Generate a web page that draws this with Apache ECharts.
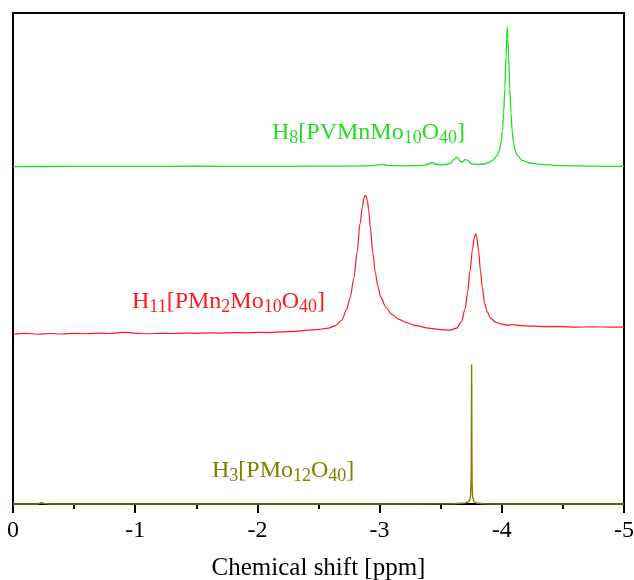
<!DOCTYPE html>
<html>
<head>
<meta charset="utf-8">
<script src="https://cdn.jsdelivr.net/npm/echarts@6/dist/echarts.min.js"></script>
<style>
  html, body { margin: 0; padding: 0; background: #fff; }
  #chart { width: 634px; height: 580px; }
</style>
</head>
<body>
<div id="chart"></div>
<script>
// 31P NMR spectra, chemical shift in ppm (axis drawn from 0 down to -5)
const xTicks = [0, -1, -2, -3, -4, -5];

// H8[PVMnMo10O40]
const vmnShift = [0, -0.5, -1.0, -1.5, -2.0, -2.5, -2.9, -2.97, -3.02, -3.07, -3.2, -3.35, -3.40, -3.43, -3.46, -3.52, -3.58, -3.61, -3.635, -3.66, -3.675, -3.70, -3.72, -3.75, -3.80, -3.86, -3.90, -3.925, -3.96, -3.98, -3.995, -4.005, -4.015, -4.025, -4.035, -4.040, -4.045, -4.050, -4.055, -4.065, -4.075, -4.085, -4.095, -4.11, -4.13, -4.165, -4.22, -4.32, -4.5, -4.75, -5.0];
const vmnIntensity = [0, 0.05, 0.05, 0.1, 0.05, 0.1, 0.15, 0.3, 0.45, 0.25, 0.15, 0.25, 0.5, 0.85, 0.5, 0.35, 0.7, 1.5, 1.95, 1.1, 0.95, 1.45, 1.3, 0.6, 0.45, 0.55, 0.9, 1.3, 2.2, 3.3, 5.0, 7.3, 11, 16, 22.5, 26, 28.45, 26, 22.5, 16, 11, 7.3, 5.0, 3.3, 2.2, 1.3, 0.8, 0.45, 0.2, 0.1, 0.05];

// H11[PMn2Mo10O40]
const mn2Shift = [0, -0.1, -0.2, -0.3, -0.4, -0.5, -0.6, -0.7, -0.8, -0.9, -0.95, -1.0, -1.1, -1.2, -1.3, -1.4, -1.5, -1.6, -1.7, -1.8, -1.9, -2.0, -2.1, -2.2, -2.3, -2.4, -2.5, -2.58, -2.64, -2.69, -2.73, -2.76, -2.79, -2.815, -2.84, -2.86, -2.87, -2.88, -2.89, -2.90, -2.91, -2.925, -2.945, -2.965, -2.985, -3.01, -3.05, -3.10, -3.16, -3.22, -3.30, -3.40, -3.50, -3.58, -3.63, -3.67, -3.70, -3.72, -3.74, -3.76, -3.775, -3.785, -3.795, -3.81, -3.825, -3.84, -3.86, -3.88, -3.91, -3.95, -4.0, -4.05, -4.1, -4.15, -4.25, -4.35, -4.5, -4.6, -4.75, -4.9, -5.0];
const mn2Intensity = [0, 0.15, -0.05, 0.1, 0.0, 0.15, 0.05, 0.2, 0.1, 0.35, 0.3, 0.15, 0.05, 0.15, 0.1, 0.2, 0.15, 0.25, 0.2, 0.3, 0.25, 0.35, 0.3, 0.45, 0.55, 0.75, 0.95, 1.2, 1.7, 2.8, 5.0, 7.5, 11.5, 16.5, 22.5, 26.0, 27.5, 28.2, 28.1, 27.2, 25.4, 21.5, 16.5, 12.5, 9.8, 7.5, 5.5, 4.0, 3.0, 2.3, 1.7, 1.2, 0.9, 0.8, 1.2, 2.5, 5.2, 8.5, 12.8, 17.2, 19.6, 20.4, 19.8, 17.0, 13.0, 9.5, 6.3, 4.5, 3.2, 2.4, 2.0, 1.8, 1.9, 1.7, 1.6, 1.5, 1.5, 1.4, 1.45, 1.4, 1.4];

// H3[PMo12O40]
const mo12Shift = [0, -0.2, -0.23, -0.245, -0.26, -0.3, -1.0, -2.0, -3.0, -3.6, -3.7, -3.73, -3.74, -3.745, -3.749, -3.751, -3.752, -3.753, -3.754, -3.755, -3.757, -3.761, -3.77, -3.79, -3.85, -4.0, -5.0];
const mo12Intensity = [0, 0, 0.25, 0.45, 0.1, 0, 0, 0, 0, 0.05, 0.2, 0.5, 1.0, 2.0, 5, 13, 22, 28.4, 22, 12, 4, 1.5, 0.6, 0.2, 0.05, 0, 0];

// vertical stacking of the three traces
const OFFSET_VMN = 68.7;
const OFFSET_MN2 = 34.62;
const OFFSET_MO12 = 0;

const GREEN = '#22dd22';
const RED = '#ff1a1a';
const OLIVE = '#808000';
const SERIF = '"Liberation Serif", "Times New Roman", serif';

function pairs(xs, ys, offset) {
  return xs.map((x, i) => [x, ys[i] + offset]);
}

function formula(parts, color) {
  // parts: array of [text, isSubscript]
  const text = parts.map(p => (p[1] ? '{s|' : '{m|') + p[0] + '}').join('');
  return {
    text: text,
    rich: {
      m: { fontSize: 24, lineHeight: 28, fontFamily: SERIF, fill: color },
      s: { fontSize: 18, lineHeight: 14, fontFamily: SERIF, fill: color, verticalAlign: 'bottom' }
    }
  };
}

const chart = echarts.init(document.getElementById('chart'), null, { renderer: 'canvas' });

chart.setOption({
  animation: false,
  backgroundColor: '#fff',
  grid: {
    left: 13, right: 10, top: 13, bottom: 76,
    outerBoundsMode: 'none',
    containLabel: false,
    show: true, borderColor: '#000', borderWidth: 2, backgroundColor: 'transparent'
  },
  xAxis: {
    type: 'value',
    min: -5, max: 0, interval: 1,
    inverse: true,
    name: 'Chemical shift [ppm]',
    nameLocation: 'middle',
    nameGap: 52,
    nameTextStyle: { fontFamily: SERIF, fontSize: 25, color: '#000' },
    axisLine: { show: true, lineStyle: { color: '#000', width: 2 } },
    axisTick: { show: true, inside: false, length: 9, lineStyle: { color: '#000', width: 2 } },
    minorTick: { show: true, splitNumber: 2, length: 5, lineStyle: { color: '#000', width: 2 } },
    axisLabel: {
      fontFamily: SERIF, fontSize: 24, color: '#000', margin: 15,
      formatter: v => xTicks.indexOf(v) >= 0 ? String(v) : ''
    },
    splitLine: { show: false }
  },
  yAxis: {
    type: 'value',
    min: 0, max: 100,
    axisLine: { show: true, lineStyle: { color: '#000', width: 2 } },
    axisTick: { show: false },
    axisLabel: { show: false },
    splitLine: { show: false }
  },
  series: [
    {
      name: 'H8[PVMnMo10O40]', type: 'line', showSymbol: false, clip: false,
      smooth: 0.25, smoothMonotone: 'x',
      lineStyle: { color: GREEN, width: 1.3 },
      data: pairs(vmnShift, vmnIntensity, OFFSET_VMN)
    },
    {
      name: 'H11[PMn2Mo10O40]', type: 'line', showSymbol: false, clip: false,
      smooth: 0.3, smoothMonotone: 'x',
      lineStyle: { color: RED, width: 1.2 },
      data: pairs(mn2Shift, mn2Intensity, OFFSET_MN2)
    },
    {
      name: 'H3[PMo12O40]', type: 'line', showSymbol: false, clip: false,
      lineStyle: { color: OLIVE, width: 1.4 },
      data: pairs(mo12Shift, mo12Intensity, OFFSET_MO12)
    }
  ],
  graphic: [
    {
      type: 'text', left: 272, top: 121, z: 10,
      style: formula([['H', 0], ['8', 1], ['[PVMnMo', 0], ['10', 1], ['O', 0], ['40', 1], [']', 0]], GREEN)
    },
    {
      type: 'text', left: 132, top: 290, z: 10,
      style: formula([['H', 0], ['11', 1], ['[PMn', 0], ['2', 1], ['Mo', 0], ['10', 1], ['O', 0], ['40', 1], [']', 0]], RED)
    },
    {
      type: 'text', left: 212, top: 459, z: 10,
      style: formula([['H', 0], ['3', 1], ['[PMo', 0], ['12', 1], ['O', 0], ['40', 1], [']', 0]], OLIVE)
    }
  ]
});
</script>
</body>
</html>
